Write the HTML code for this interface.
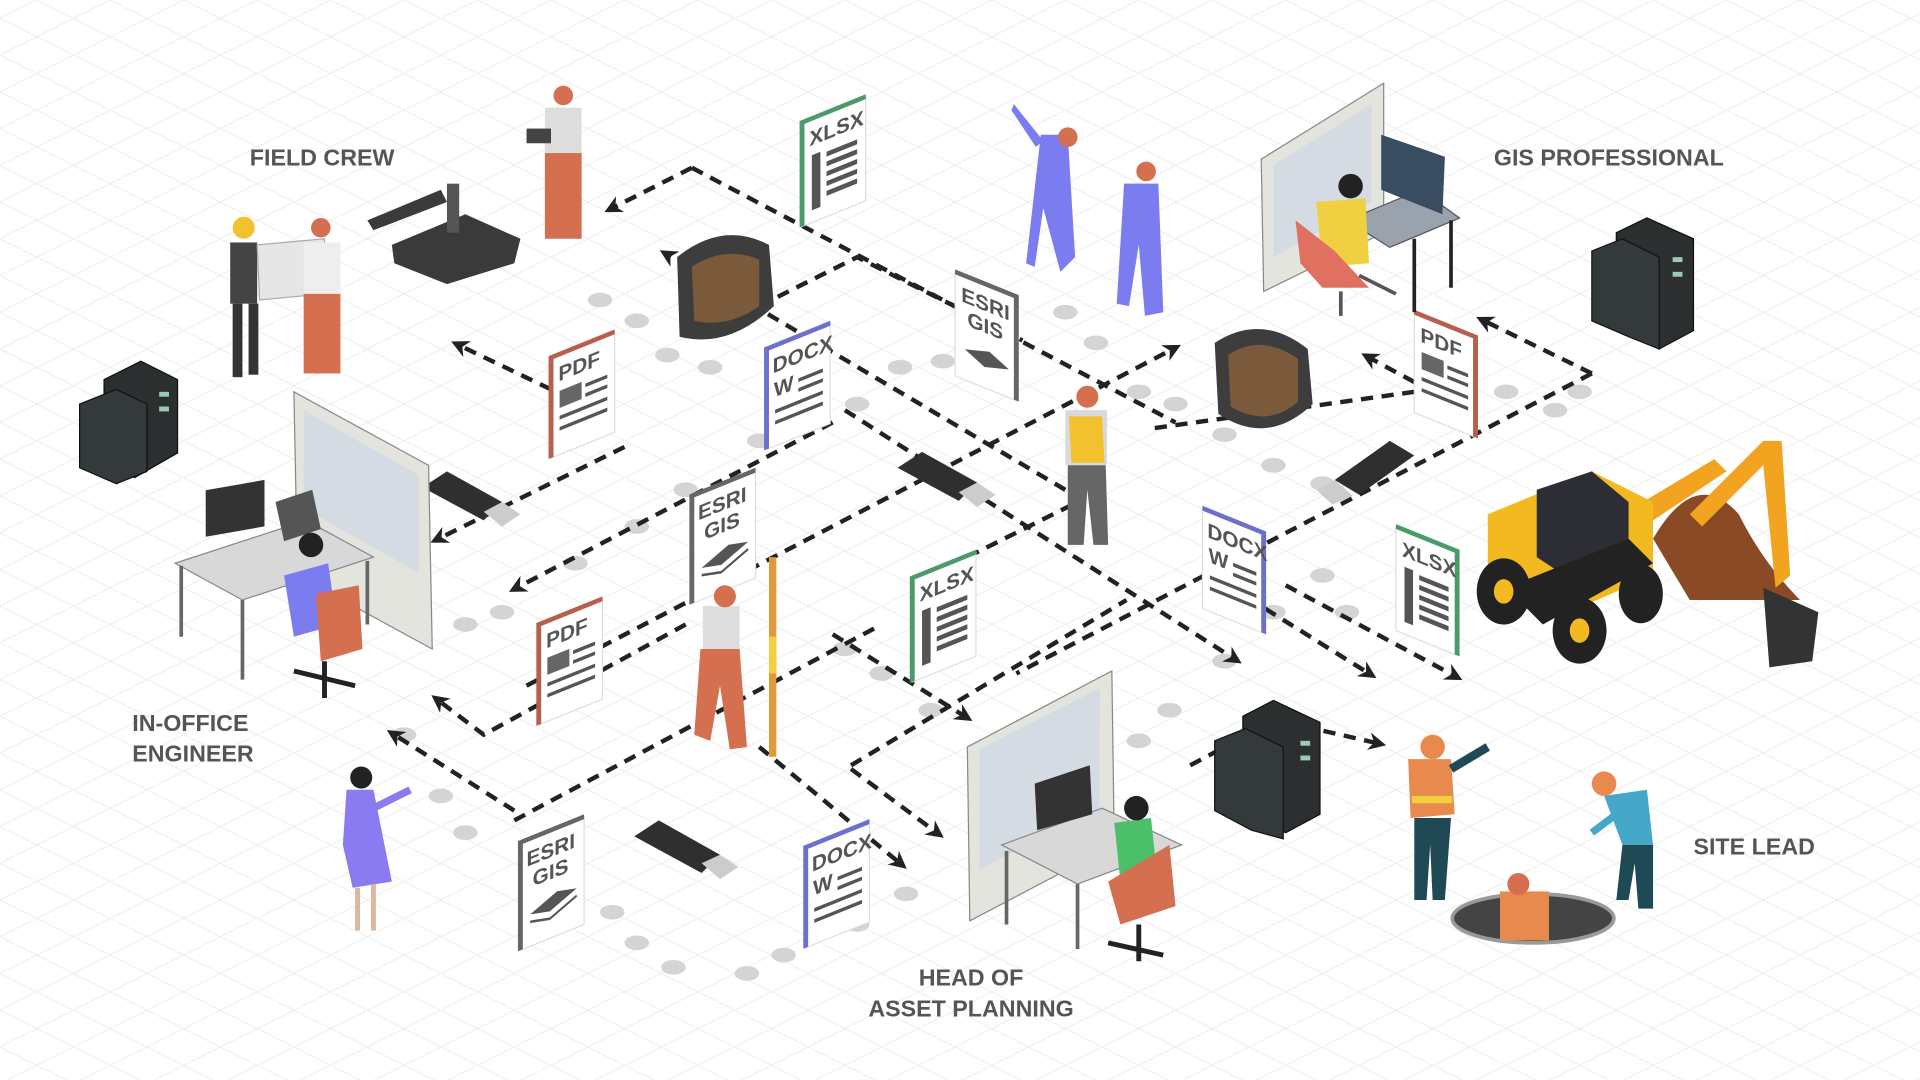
<!DOCTYPE html>
<html><head><meta charset="utf-8"><style>
html,body{margin:0;padding:0;background:#fff;width:1920px;height:1080px;overflow:hidden}
svg{display:block}
.lbl{font-family:"Liberation Sans",sans-serif;font-weight:bold;font-size:19px;fill:#555}
.dt{font-family:"Liberation Sans",sans-serif;font-weight:bold;font-size:17px;fill:#555}
.dl{fill:none;stroke:#222;stroke-width:3.6;stroke-dasharray:10 7}
.fp{fill:#d4d4d4}
</style></head><body>
<svg width="1920" height="1080" viewBox="0 0 1568 882" preserveAspectRatio="none">
<defs>
<pattern id="g" width="60" height="30" patternUnits="userSpaceOnUse">
<path d="M0 15 L30 0 L60 15 L30 30 Z" fill="none" stroke="#f0f0f0" stroke-width="1"/>
</pattern>
<marker id="a" viewBox="0 0 10 10" refX="5" refY="5" markerWidth="4" markerHeight="4" orient="auto"><path d="M0 0 L10 5 L0 10 L3 5Z" fill="#222"/></marker>
<g id="lines">
<path d="M4 6 H40 M4 14 H40 M4 22 H40 M4 30 H40" stroke="#555" stroke-width="3"/>
</g>
</defs>
<rect width="1568" height="882" fill="url(#g)"/>

<!-- footprints -->
<g class="fp">
<ellipse cx="490" cy="245" rx="10" ry="6"/><ellipse cx="520" cy="262" rx="10" ry="6"/><ellipse cx="545" cy="290" rx="10" ry="6"/><ellipse cx="580" cy="300" rx="10" ry="6"/>
<ellipse cx="700" cy="330" rx="10" ry="6"/><ellipse cx="735" cy="300" rx="10" ry="6"/><ellipse cx="770" cy="295" rx="10" ry="6"/>
<ellipse cx="870" cy="255" rx="10" ry="6"/><ellipse cx="895" cy="280" rx="10" ry="6"/><ellipse cx="930" cy="320" rx="10" ry="6"/><ellipse cx="960" cy="330" rx="10" ry="6"/>
<ellipse cx="1000" cy="355" rx="10" ry="6"/><ellipse cx="1040" cy="380" rx="10" ry="6"/><ellipse cx="1080" cy="395" rx="10" ry="6"/>
<ellipse cx="1230" cy="320" rx="10" ry="6"/><ellipse cx="1270" cy="335" rx="10" ry="6"/><ellipse cx="1290" cy="320" rx="10" ry="6"/>
<ellipse cx="380" cy="510" rx="10" ry="6"/><ellipse cx="410" cy="500" rx="10" ry="6"/><ellipse cx="470" cy="460" rx="10" ry="6"/><ellipse cx="520" cy="430" rx="10" ry="6"/>
<ellipse cx="560" cy="400" rx="10" ry="6"/><ellipse cx="620" cy="360" rx="10" ry="6"/>
<ellipse cx="330" cy="600" rx="10" ry="6"/><ellipse cx="360" cy="650" rx="10" ry="6"/><ellipse cx="380" cy="680" rx="10" ry="6"/>
<ellipse cx="500" cy="745" rx="10" ry="6"/><ellipse cx="520" cy="770" rx="10" ry="6"/><ellipse cx="550" cy="790" rx="10" ry="6"/>
<ellipse cx="610" cy="795" rx="10" ry="6"/><ellipse cx="640" cy="780" rx="10" ry="6"/><ellipse cx="700" cy="755" rx="10" ry="6"/><ellipse cx="740" cy="730" rx="10" ry="6"/>
<ellipse cx="690" cy="530" rx="10" ry="6"/><ellipse cx="720" cy="550" rx="10" ry="6"/><ellipse cx="760" cy="580" rx="10" ry="6"/>
<ellipse cx="930" cy="605" rx="10" ry="6"/><ellipse cx="955" cy="580" rx="10" ry="6"/><ellipse cx="1000" cy="540" rx="10" ry="6"/><ellipse cx="1040" cy="500" rx="10" ry="6"/>
<ellipse cx="1080" cy="470" rx="10" ry="6"/><ellipse cx="1100" cy="500" rx="10" ry="6"/>
</g>

<!-- dashed connectors -->
<g class="dl">
<path d="M565 137 L500 170" marker-end="url(#a)"/>
<path d="M565 137 L960 345"/>
<path d="M870 400 L545 208" marker-end="url(#a)"/>
<path d="M450 318 L375 282" marker-end="url(#a)"/>
<path d="M510 365 L358 440" marker-end="url(#a)"/>
<path d="M680 345 L422 480" marker-end="url(#a)"/>
<path d="M620 250 L700 210 L835 278"/>
<path d="M430 560 L958 285" marker-end="url(#a)"/>
<path d="M1300 305 L1212 262" marker-end="url(#a)"/>
<path d="M1300 305 L830 550"/>
<path d="M1155 312 L1118 292" marker-end="url(#a)"/>
<path d="M1155 320 L940 350"/>
<path d="M690 335 L1008 538" marker-end="url(#a)"/>
<path d="M1050 478 L1188 552" marker-end="url(#a)"/>
<path d="M990 470 L1118 550" marker-end="url(#a)"/>
<path d="M560 510 L395 600 L358 572" marker-end="url(#a)"/>
<path d="M420 662 L322 600" marker-end="url(#a)"/>
<path d="M420 670 L720 510"/>
<path d="M620 610 L735 705" marker-end="url(#a)"/>
<path d="M695 628 L765 680" marker-end="url(#a)"/>
<path d="M680 518 L788 585" marker-end="url(#a)"/>
<path d="M695 625 L920 490"/>
<path d="M972 625 L1042 588 L1125 607" marker-end="url(#a)"/>
<path d="M760 470 L880 410"/>
</g>

<!-- labels -->
<text class="lbl" x="204" y="135">FIELD CREW</text>
<text class="lbl" x="1220" y="135">GIS PROFESSIONAL</text>
<text class="lbl" x="108" y="597">IN-OFFICE</text>
<text class="lbl" x="108" y="622">ENGINEER</text>
<text class="lbl" x="1383" y="698">SITE LEAD</text>
<text class="lbl" x="793" y="805" text-anchor="middle">HEAD OF</text>
<text class="lbl" x="793" y="830" text-anchor="middle">ASSET PLANNING</text>

<!-- rising documents -->
<g transform="translate(655,100) skewY(-22)"><rect width="52" height="85" fill="#fff" stroke="#ddd"/><path d="M0 85 V0 H52" stroke="#4a9a6a" stroke-width="4" fill="none"/><text class="dt" x="6" y="22">XLSX</text><rect x="8" y="30" width="7" height="45" fill="#555"/><path d="M20 34H45M20 42H45M20 50H45M20 58H45M20 66H45" stroke="#555" stroke-width="4"/></g>
<g transform="translate(450,292) skewY(-22)"><rect width="52" height="82" fill="#fff" stroke="#ddd"/><path d="M0 82 V0 H52" stroke="#b65f4e" stroke-width="4" fill="none"/><text class="dt" x="6" y="22">PDF</text><rect x="7" y="30" width="18" height="14" fill="#666"/><path d="M28 34H46M28 42H46M7 52H46M7 61H46" stroke="#555" stroke-width="3"/></g>
<g transform="translate(626,285) skewY(-22)"><rect width="52" height="82" fill="#fff" stroke="#ddd"/><path d="M0 82 V0 H52" stroke="#6b6fd0" stroke-width="4" fill="none"/><text class="dt" x="5" y="22">DOCX</text><text class="dt" x="6" y="42">W</text><path d="M26 36H46M26 44H46M7 54H46M7 63H46" stroke="#555" stroke-width="3"/></g>
<g transform="translate(565,405) skewY(-22)"><rect width="52" height="88" fill="#fff" stroke="#ddd"/><path d="M0 88 V0 H52" stroke="#666" stroke-width="4" fill="none"/><text class="dt" x="5" y="22">ESRI</text><text class="dt" x="10" y="40">GIS</text><path d="M8 62 L30 52 L46 56 L24 66Z" fill="#555"/><path d="M8 68 L24 72 L46 62" stroke="#555" stroke-width="2" fill="none"/></g>
<g transform="translate(440,510) skewY(-22)"><rect width="52" height="82" fill="#fff" stroke="#ddd"/><path d="M0 82 V0 H52" stroke="#b65f4e" stroke-width="4" fill="none"/><text class="dt" x="6" y="22">PDF</text><rect x="7" y="30" width="18" height="14" fill="#666"/><path d="M28 34H46M28 42H46M7 52H46M7 61H46" stroke="#555" stroke-width="3"/></g>
<g transform="translate(745,472) skewY(-22)"><rect width="52" height="85" fill="#fff" stroke="#ddd"/><path d="M0 85 V0 H52" stroke="#4a9a6a" stroke-width="4" fill="none"/><text class="dt" x="6" y="22">XLSX</text><rect x="8" y="30" width="7" height="45" fill="#555"/><path d="M20 34H45M20 42H45M20 50H45M20 58H45M20 66H45" stroke="#555" stroke-width="4"/></g>
<g transform="translate(425,688) skewY(-22)"><rect width="52" height="88" fill="#fff" stroke="#ddd"/><path d="M0 88 V0 H52" stroke="#666" stroke-width="4" fill="none"/><text class="dt" x="5" y="22">ESRI</text><text class="dt" x="10" y="40">GIS</text><path d="M8 62 L30 52 L46 56 L24 66Z" fill="#555"/><path d="M8 68 L24 72 L46 62" stroke="#555" stroke-width="2" fill="none"/></g>
<g transform="translate(658,692) skewY(-22)"><rect width="52" height="82" fill="#fff" stroke="#ddd"/><path d="M0 82 V0 H52" stroke="#6b6fd0" stroke-width="4" fill="none"/><text class="dt" x="5" y="22">DOCX</text><text class="dt" x="6" y="42">W</text><path d="M26 36H46M26 44H46M7 54H46M7 63H46" stroke="#555" stroke-width="3"/></g>

<!-- falling documents -->
<g transform="translate(780,222) skewY(22)"><rect width="50" height="85" fill="#fff" stroke="#ddd"/><path d="M0 0 H50 V85" stroke="#666" stroke-width="4" fill="none"/><text class="dt" x="5" y="22">ESRI</text><text class="dt" x="10" y="40">GIS</text><path d="M8 60 L28 54 L44 62 L24 68Z" fill="#555"/></g>
<g transform="translate(1155,255) skewY(22)"><rect width="50" height="82" fill="#fff" stroke="#ddd"/><path d="M0 0 H50 V82" stroke="#b65f4e" stroke-width="4" fill="none"/><text class="dt" x="5" y="22">PDF</text><rect x="6" y="30" width="18" height="14" fill="#666"/><path d="M27 34H44M27 42H44M6 52H44M6 61H44" stroke="#555" stroke-width="3"/></g>
<g transform="translate(982,415) skewY(22)"><rect width="50" height="82" fill="#fff" stroke="#ddd"/><path d="M0 0 H50 V82" stroke="#6b6fd0" stroke-width="4" fill="none"/><text class="dt" x="4" y="22">DOCX</text><text class="dt" x="5" y="42">W</text><path d="M25 36H44M25 44H44M6 54H44M6 63H44" stroke="#555" stroke-width="3"/></g>
<g transform="translate(1140,430) skewY(22)"><rect width="50" height="85" fill="#fff" stroke="#ddd"/><path d="M0 0 H50 V85" stroke="#4a9a6a" stroke-width="4" fill="none"/><text class="dt" x="5" y="22">XLSX</text><rect x="7" y="30" width="7" height="45" fill="#555"/><path d="M19 34H43M19 42H43M19 50H43M19 58H43M19 66H43" stroke="#555" stroke-width="4"/></g>

<!-- servers -->
<g fill="#2b2f30" stroke="#111">
<path d="M85 310 L115 295 L145 310 L145 370 L110 390 L85 378Z"/><path d="M65 330 L95 318 L120 330 L120 385 L95 395 L65 382Z" fill="#343a3b"/>
<path d="M1320 190 L1345 178 L1383 195 L1383 270 L1355 285 L1320 268Z"/><path d="M1300 205 L1325 195 L1355 210 L1355 285 L1330 275 L1300 262Z" fill="#343a3b"/>
<path d="M1015 585 L1040 572 L1078 590 L1078 665 L1050 680 L1015 663Z"/><path d="M992 605 L1017 595 L1048 610 L1048 685 L1022 678 L992 662Z" fill="#343a3b"/>
</g>
<g fill="#9ccab8"><rect x="130" y="320" width="8" height="4"/><rect x="130" y="332" width="8" height="4"/><rect x="1366" y="210" width="8" height="4"/><rect x="1366" y="222" width="8" height="4"/><rect x="1062" y="605" width="8" height="4"/><rect x="1062" y="617" width="8" height="4"/></g>

<!-- tablets -->
<g><path d="M553 210 Q590 180 628 200 L632 250 Q595 285 555 275Z" fill="#3d3d3d"/><path d="M565 218 Q592 200 620 212 L620 250 Q595 268 567 262Z" fill="#7a5a3a"/>
<path d="M992 280 Q1030 255 1068 285 L1072 330 Q1035 365 995 338Z" fill="#3d3d3d"/><path d="M1003 290 Q1030 272 1060 293 L1060 328 Q1035 350 1005 332Z" fill="#7a5a3a"/></g>

<!-- usb sticks -->
<g>
<path d="M345 398 L365 385 L410 410 L395 425 Z" fill="#2f2f2f"/><path d="M395 418 L410 410 L425 420 L410 430Z" fill="#ccc"/>
<path d="M733 382 L753 369 L798 394 L783 409 Z" fill="#2f2f2f"/><path d="M783 402 L798 394 L813 404 L798 414Z" fill="#ccc"/>
<path d="M1090 392 L1135 360 L1155 372 L1110 404 Z" fill="#2f2f2f"/><path d="M1075 400 L1090 392 L1105 405 L1088 412Z" fill="#ccc"/>
<path d="M518 683 L538 670 L588 698 L573 713 Z" fill="#2f2f2f"/><path d="M573 705 L588 698 L603 708 L588 718Z" fill="#ccc"/>
</g>

<!-- robot -->
<g fill="#3a3a3a"><path d="M320 200 L380 175 L425 195 L420 215 L365 232 L322 215Z"/><path d="M300 180 L360 155 L365 165 L305 188Z"/><rect x="365" y="150" width="10" height="40" fill="#555"/></g>

<!-- desks / office panels -->
<!-- in-office -->
<path d="M240 320 L350 380 L353 530 L243 470Z" fill="#e4e4df" stroke="#888"/><path d="M248 335 L342 388 L342 468 L248 415Z" fill="#d5dbe2"/>
<path d="M143 460 L250 425 L305 455 L198 490Z" fill="#d8d8d8" stroke="#888"/>
<path d="M148 462 V520 M198 490 V555 M300 458 V510" stroke="#666" stroke-width="3"/>
<rect x="168" y="395" width="48" height="38" fill="#333" transform="skewY(-10) translate(0,35)"/>
<path d="M225 410 L255 400 L262 432 L232 442Z" fill="#555"/>
<path d="M232 470 L268 460 L275 510 L240 520Z" fill="#7b7cf0"/><circle cx="254" cy="445" r="10" fill="#222"/>
<path d="M258 485 L293 478 L296 530 L262 540Z" fill="#d4704f"/><path d="M240 548 L290 560 M265 540 V570" stroke="#222" stroke-width="4"/>
<!-- GIS prof -->
<path d="M1030 130 L1130 68 L1130 190 L1032 238Z" fill="#e4e4df" stroke="#888"/><path d="M1040 135 L1120 85 L1120 165 L1040 210Z" fill="#d5dbe2"/>
<path d="M1100 180 L1160 155 L1192 178 L1135 202Z" fill="#9aa2ad" stroke="#555"/><path d="M1185 180 V235 M1155 195 V255" stroke="#222" stroke-width="3"/>
<path d="M1128 110 L1180 128 L1178 175 L1128 155Z" fill="#3a4c60"/>
<path d="M1075 165 L1115 162 L1118 215 L1080 218Z" fill="#f0d040"/><circle cx="1103" cy="152" r="10" fill="#222"/>
<path d="M1058 180 L1090 205 L1118 235 L1080 235 L1062 215Z" fill="#e07060"/><path d="M1110 225 L1140 240 M1095 238 V258" stroke="#555" stroke-width="3"/>
<!-- head of asset planning -->
<path d="M790 610 L908 548 L910 690 L792 752Z" fill="#e4e4df" stroke="#888"/><path d="M800 612 L898 562 L898 660 L800 710Z" fill="#d5dbe2"/>
<path d="M818 690 L900 660 L965 690 L880 722Z" fill="#d8d8d8" stroke="#888"/><path d="M822 695 V755 M880 722 V775" stroke="#666" stroke-width="3"/>
<path d="M845 640 L890 625 L892 665 L847 678Z" fill="#333"/>
<path d="M910 672 L940 668 L945 715 L915 720Z" fill="#4cbf6a"/><circle cx="928" cy="660" r="10" fill="#222"/>
<path d="M905 720 L955 690 L960 740 L915 755Z" fill="#d4704f"/><path d="M905 770 L950 780 M930 755 V785" stroke="#222" stroke-width="4"/>

<!-- people: field crew -->
<g>
<rect x="188" y="198" width="22" height="50" fill="#444"/><rect x="190" y="248" width="8" height="60" fill="#333"/><rect x="203" y="248" width="8" height="58" fill="#333"/><circle cx="199" cy="186" r="9" fill="#f2c12e"/>
<path d="M210 200 L265 195 L265 240 L212 245Z" fill="#e6e6e6" stroke="#aaa"/>
<rect x="248" y="198" width="30" height="50" fill="#eee"/><rect x="248" y="240" width="30" height="65" fill="#d4704f"/><circle cx="262" cy="186" r="8" fill="#d4704f"/>
<rect x="445" y="88" width="30" height="45" fill="#ddd"/><rect x="445" y="125" width="30" height="70" fill="#d4704f"/><circle cx="460" cy="78" r="8" fill="#d4704f"/><rect x="430" y="105" width="20" height="12" fill="#444"/>
</g>
<!-- blue men -->
<g fill="#7b7cf0"><path d="M850 110 L872 110 L878 210 L866 222 L852 170 L845 218 L838 215Z"/><path d="M828 85 L852 115 L846 120 L826 90Z"/><path d="M918 150 L946 150 L950 255 L935 258 L930 200 L922 250 L912 248Z"/></g>
<circle cx="872" cy="112" r="8" fill="#d4704f"/><circle cx="936" cy="140" r="8" fill="#d4704f"/>
<!-- inspector -->
<rect x="870" y="335" width="34" height="45" fill="#d9d9d9"/><path d="M873 340 L900 340 L902 378 L875 378Z" fill="#f2c12e"/><path d="M872 380 L903 380 L905 445 L893 445 L888 400 L885 445 L872 445Z" fill="#666"/><circle cx="888" cy="324" r="9" fill="#d4704f"/>
<!-- surveyor -->
<rect x="574" y="495" width="30" height="40" fill="#ddd"/><path d="M572 530 L604 530 L610 610 L596 612 L588 560 L580 605 L567 600Z" fill="#d4704f"/><circle cx="592" cy="487" r="9" fill="#d4704f"/>
<rect x="628" y="455" width="6" height="163" fill="#e09a3a"/><rect x="628" y="520" width="6" height="30" fill="#f2d040"/>
<!-- woman -->
<circle cx="295" cy="635" r="9" fill="#222"/><path d="M283 645 L305 645 L320 720 L288 725 L280 690Z" fill="#8a7cf0"/><path d="M292 725 V760 M305 722 V760" stroke="#d9b8a0" stroke-width="4"/><path d="M305 660 L335 645" stroke="#8a7cf0" stroke-width="6"/>
<!-- site lead group -->
<ellipse cx="1252" cy="750" rx="66" ry="20" fill="#444" stroke="#999" stroke-width="3"/>
<rect x="1225" y="728" width="40" height="40" fill="#e8894e"/><circle cx="1240" cy="722" r="9" fill="#d4704f"/>
<path d="M1150 620 L1185 620 L1188 665 L1152 668Z" fill="#e8894e"/><rect x="1153" y="650" width="33" height="6" fill="#f2d040"/><path d="M1155 668 L1185 668 L1180 735 L1170 735 L1168 690 L1165 735 L1155 735Z" fill="#1f4a55"/><circle cx="1170" cy="610" r="10" fill="#e8894e"/><path d="M1185 628 L1215 610" stroke="#1f4a55" stroke-width="7"/>
<path d="M1310 650 L1345 645 L1350 690 L1325 690Z" fill="#45a8c8"/><path d="M1325 690 L1350 690 L1350 742 L1338 742 L1335 705 L1330 735 L1320 735Z" fill="#1f4a55"/><circle cx="1310" cy="640" r="10" fill="#e8894e"/><path d="M1320 665 L1300 680" stroke="#45a8c8" stroke-width="6"/>

<!-- excavator -->
<path d="M1350 440 Q1385 380 1420 420 Q1440 460 1470 490 L1380 490 Z" fill="#8a4a25"/>
<path d="M1380 420 L1440 360 L1455 360 L1462 470 L1450 480 L1440 380 L1390 430Z" fill="#f2a420"/>
<path d="M1325 420 L1400 375 L1410 385 L1335 435Z" fill="#f2a420"/>
<path d="M1440 480 L1485 500 L1480 540 L1445 545Z" fill="#333"/>
<path d="M1215 420 L1300 385 L1350 410 L1350 470 L1270 505 L1215 475Z" fill="#f2b920"/>
<path d="M1255 400 L1300 385 L1330 410 L1330 460 L1290 478 L1255 455Z" fill="#2d2d35"/>
<path d="M1230 480 L1330 440 L1350 460 L1260 510Z" fill="#222"/>
<ellipse cx="1228" cy="483" rx="22" ry="27" fill="#222"/><ellipse cx="1228" cy="483" rx="8" ry="10" fill="#f2b920"/>
<ellipse cx="1290" cy="515" rx="22" ry="27" fill="#222"/><ellipse cx="1290" cy="515" rx="8" ry="10" fill="#f2b920"/>
<ellipse cx="1340" cy="485" rx="18" ry="24" fill="#222"/>
</svg>
</body></html>
